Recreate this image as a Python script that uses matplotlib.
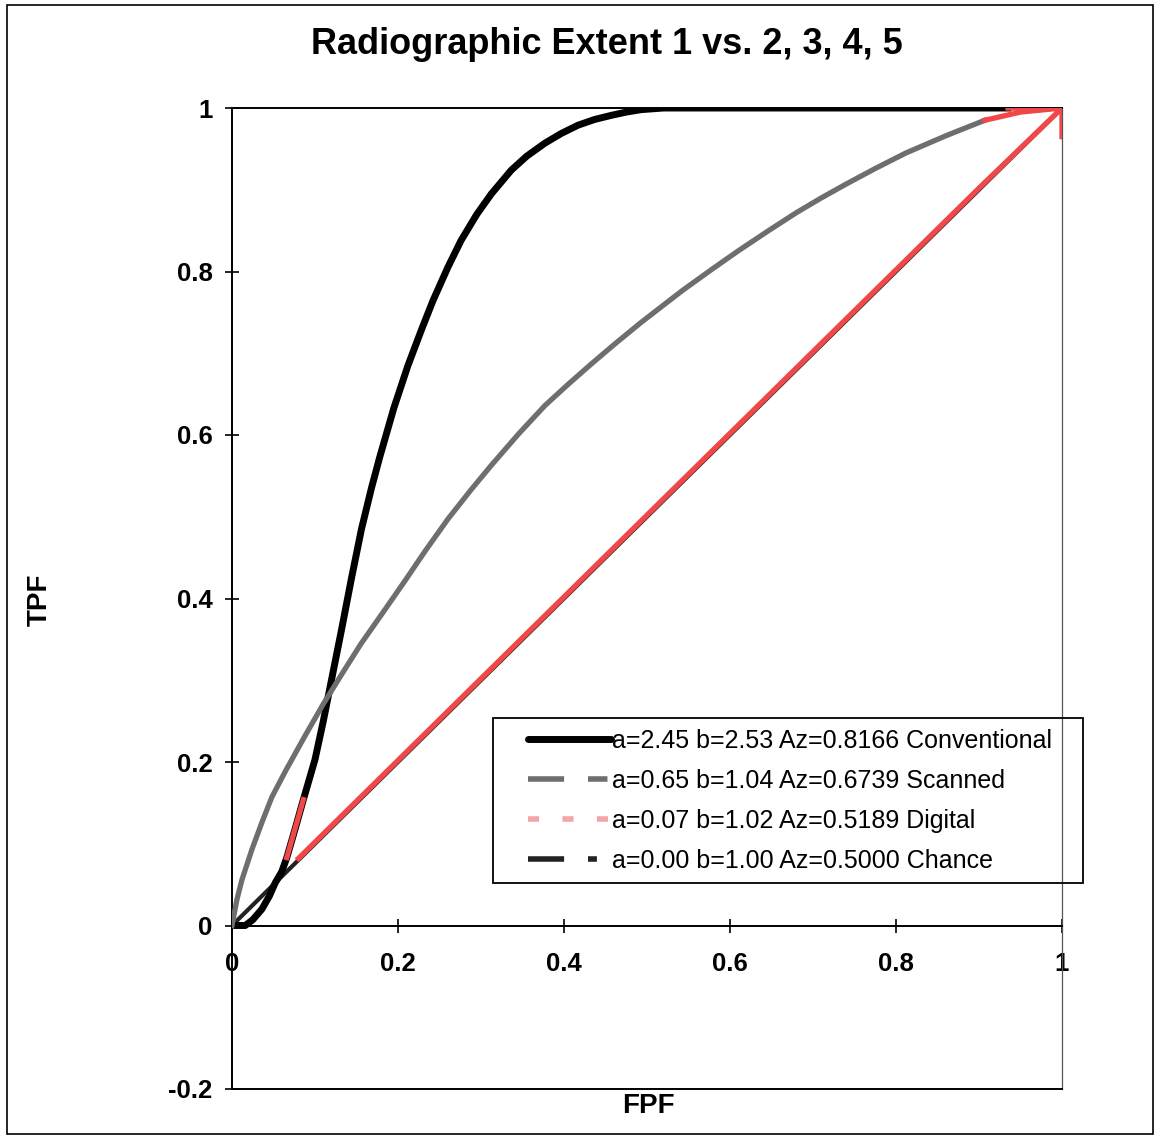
import numpy as np
import matplotlib
matplotlib.use("Agg")
import matplotlib.pyplot as plt
from matplotlib.lines import Line2D
from matplotlib.patches import Rectangle

plt.rcParams['font.family'] = ['Liberation Sans', 'DejaVu Sans']
plt.rcParams['axes.unicode_minus'] = False

# ---------------- data ----------------
title = "Radiographic Extent 1 vs. 2, 3, 4, 5"
x_label = "FPF"
y_label = "TPF"
x_ticks = [0, 0.2, 0.4, 0.6, 0.8, 1]
y_ticks = [-0.2, 0, 0.2, 0.4, 0.6, 0.8, 1]

series_labels = [
    "a=2.45 b=2.53 Az=0.8166 Conventional",
    "a=0.65 b=1.04 Az=0.6739 Scanned",
    "a=0.07 b=1.02 Az=0.5189 Digital",
    "a=0.00 b=1.00 Az=0.5000 Chance",
]

conv_x = [0, 0.016, 0.025, 0.036, 0.045, 0.052, 0.060, 0.066, 0.076, 0.086, 0.100,
          0.110, 0.120, 0.132, 0.144, 0.156, 0.168, 0.178, 0.195, 0.212, 0.228,
          0.242, 0.260, 0.276, 0.295, 0.3125, 0.3365, 0.355, 0.377, 0.397, 0.417,
          0.437, 0.457, 0.475, 0.493, 0.52, 0.55, 0.935]
conv_y = [0, 0, 0.007, 0.020, 0.036, 0.052, 0.066, 0.083, 0.118, 0.154, 0.203,
          0.250, 0.301, 0.362, 0.425, 0.485, 0.535, 0.573, 0.633, 0.685, 0.728,
          0.764, 0.805, 0.838, 0.870, 0.895, 0.924, 0.941, 0.957, 0.969, 0.979,
          0.986, 0.991, 0.995, 0.998, 1.0, 1.0, 1.0]

scan_x = [0, 0.006, 0.012, 0.024, 0.036, 0.048, 0.065, 0.088, 0.110, 0.132, 0.155,
          0.184, 0.210, 0.232, 0.260, 0.288, 0.3125, 0.345, 0.377, 0.405, 0.433,
          0.462, 0.492, 0.520, 0.543, 0.580, 0.611, 0.645, 0.680, 0.710, 0.740,
          0.775, 0.812, 0.860, 0.907]
scan_y = [0, 0.032, 0.056, 0.093, 0.126, 0.157, 0.190, 0.232, 0.271, 0.307, 0.344,
          0.386, 0.424, 0.457, 0.497, 0.533, 0.563, 0.601, 0.636, 0.662, 0.687,
          0.712, 0.737, 0.759, 0.777, 0.804, 0.826, 0.849, 0.872, 0.890, 0.907,
          0.926, 0.945, 0.966, 0.985]

# digital curve: visible pieces separated by gaps (nan)
dig_x = [0.086, 0.066, np.nan, 0.080, 0.2, 0.3, 0.4, 0.5, 0.6, 0.733, 0.8, 0.9, 1.0,
         np.nan, 0.907, 0.95, 1.0, np.nan, 0.935, 1.0, 1.0]
dig_y = [0.154, 0.083, np.nan, 0.082, 0.202, 0.302, 0.402, 0.502, 0.602, 0.735, 0.802, 0.902, 1.0,
         np.nan, 0.985, 0.995, 1.0, np.nan, 1.0, 1.0, 0.965]

chance_x = [0, 1]
chance_y = [0, 1]

# ---------------- figure ----------------
W, H = 1159, 1137
fig = plt.figure(figsize=(W / 100, H / 100), dpi=100)
fig.patch.set_facecolor('white')

def fx(px):
    return px / W

def fy(py):
    return 1 - py / H

ax_left, ax_right, ax_top, ax_bot = 232, 1062, 108, 1089
ax = fig.add_axes([fx(ax_left), fy(ax_bot), fx(ax_right - ax_left), (ax_bot - ax_top) / H])

c_conv = '#000000'
c_scan = '#6e6e6e'
c_dig = '#f04848'
c_dig_leg = '#f4a6a6'
c_chance = '#222222'

ax.plot(chance_x, chance_y, color=c_chance, lw=3.0, solid_capstyle='butt', zorder=2)
ax.plot(conv_x, conv_y, color=c_conv, lw=5.0, solid_joinstyle='round', zorder=3)
ax.plot(scan_x, scan_y, color=c_scan, lw=3.8, solid_joinstyle='round', zorder=4)
ax.plot(dig_x, dig_y, color=c_dig, lw=3.8, solid_joinstyle='round', zorder=5)

ax.set_xlim(0, 1)
ax.set_ylim(-0.2, 1)

# spines
ax.spines['bottom'].set_position(('data', 0))
ax.spines['bottom'].set_linewidth(1.4)
ax.spines['left'].set_linewidth(1.4)
ax.spines['top'].set_linewidth(1.4)
ax.spines['right'].set_linewidth(0.9)
ax.spines['right'].set_color('#555555')
ax.plot([0, 1], [-0.2, -0.2], color='black', lw=1.4, clip_on=False, zorder=6)

ax.set_xticks(x_ticks)
ax.set_yticks(y_ticks)
ax.set_xticklabels([f"{v:g}" for v in x_ticks])
ax.set_yticklabels([f"{v:g}" for v in y_ticks])
ax.tick_params(axis='both', direction='inout', length=10, width=1.2, color='black',
               labelsize=18.5)
ax.tick_params(axis='x', pad=14)
ax.tick_params(axis='y', pad=9)
for lab in ax.get_xticklabels() + ax.get_yticklabels():
    lab.set_fontweight('bold')

# titles / labels
fig.text(fx(607), fy(45), title, ha='center', va='center', fontsize=26, fontweight='bold')
fig.text(fx(40), fy(600), y_label, ha='center', va='center', rotation=90,
         fontsize=20, fontweight='bold')
fig.text(fx(648), fy(1106), x_label, ha='center', va='center', fontsize=20, fontweight='bold')

# legend
handles = [
    Line2D([], [], color=c_conv, lw=5.0, solid_capstyle='round'),
    Line2D([], [], color=c_scan, lw=4.0, dashes=(6.5, 4.3, 3.5, 10)),
    Line2D([], [], color=c_dig_leg, lw=4.0, dashes=(2.0, 4.2)),
    Line2D([], [], color=c_chance, lw=4.0, dashes=(6.5, 4.3, 1.6, 10)),
]
leg = fig.legend(handles, series_labels, loc='upper left',
                 bbox_to_anchor=(fx(528), fy(729)), bbox_transform=fig.transFigure,
                 frameon=False, fontsize=18, handlelength=3.3, handletextpad=0.05,
                 labelspacing=0.64, borderpad=0, borderaxespad=0)
fig.patches.append(Rectangle((fx(493), fy(883)), fx(1083 - 493), (883 - 718) / H,
                             transform=fig.transFigure, fill=False, edgecolor='black',
                             lw=1.3, zorder=10))

# outer frame
fig.patches.append(Rectangle((fx(7), fy(1134)), fx(1153 - 7), (1134 - 5) / H,
                             transform=fig.transFigure, fill=False, edgecolor='black',
                             lw=1.2))

fig.savefig('out.png', dpi=100)
